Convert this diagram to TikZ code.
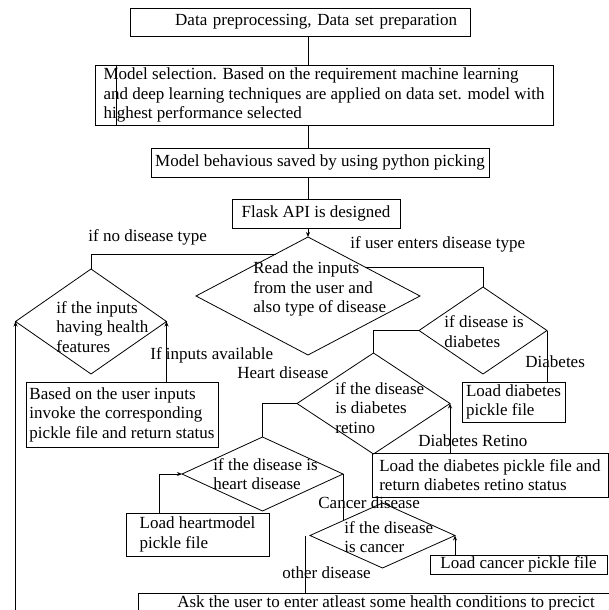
\documentclass[tikz,border=0pt]{standalone}
\usepackage{fontspec}
\setmainfont{Liberation Serif}
\usetikzlibrary{shapes.geometric,arrows.meta,calc}

\begin{document}
\begin{tikzpicture}[x=1pt,y=-1pt,line width=0.8pt,
  every node/.style={font=\fontsize{17}{19.5}\selectfont},
  box/.style={draw,inner xsep=0pt,inner ysep=1.5pt,align=left},
  dia/.style={draw,diamond,inner sep=0pt,outer sep=0pt},
  lbl/.style={inner sep=0pt,anchor=west},
  dtxt/.style={inner sep=0pt,anchor=west,align=left},
  vtip/.style={-{Stealth[length=5pt,width=4pt]}}]
\useasboundingbox (0,0) rectangle (609,610);
\clip (0,0) rectangle (609,610);

\node[box,minimum width=340pt,minimum height=28pt,text width=314pt,align=right,inner xsep=13pt] (b1) at (300,22) {Data preprocessing, Data set preparation};
\node[box,minimum width=458pt,minimum height=60pt] (b2) at (324,95) {Model selection. Based on the requirement machine learning\\and deep learning techniques are applied on data set. model with\\highest performance selected};
\node[box,minimum width=338pt,minimum height=29pt] (b3) at (320,162.5) {Model behavious saved by using python picking};
\node[box,minimum width=168pt,minimum height=29pt] (b4) at (316,213.5) {Flask API is designed};

\node[dia,minimum width=224pt,minimum height=118pt] (dA) at (308,296) {};
\node[dtxt] (tA) at (253,289) {Read the inputs\\from the user and\\also type of disease};
\node[dia,minimum width=151pt,minimum height=105pt] (dB) at (91,321.5) {};
\node[dtxt] (tB) at (56,327) {if the inputs\\having health\\features};
\node[dia,minimum width=128pt,minimum height=87pt] (dC) at (483,330.5) {};
\node[dtxt] (tC) at (444,331.5) {if disease is\\diabetes};
\node[dia,minimum width=153pt,minimum height=101pt] (dD) at (373.5,403.5) {};
\node[dtxt] (tD) at (335,408) {if the disease\\is diabetes\\retino};
\node[dia,minimum width=161pt,minimum height=74pt] (dE) at (262.5,474) {};
\node[dtxt] (tE) at (213,474) {if the disease is\\heart disease};
\node[dia,minimum width=145pt,minimum height=65pt] (dF) at (382.5,535.5) {};
\node[dtxt] (tF) at (344,537) {if the disease\\is cancer};

\node[box,minimum width=192pt,minimum height=65pt] (b5) at (122,414.5) {Based on the user inputs\\invoke the corresponding\\pickle file and return status};
\node[box,minimum width=103pt,minimum height=40pt] (b6) at (513.5,402) {Load diabetes\\pickle file};
\node[box,minimum width=236pt,minimum height=44pt] (b7) at (490,475) {Load the diabetes pickle file and\\return diabetes retino status};
\node[box,minimum width=143pt,minimum height=43pt] (b8) at (197.5,534.5) {Load heartmodel\\pickle file};
\node[box,minimum width=177pt,minimum height=19pt] (b9) at (518.5,564.5) {Load cancer pickle file};
\node[box,minimum width=496pt,minimum height=20pt] (b10) at (386,603) {Ask the user to enter atleast some health conditions to precict};

\node[lbl] (lno) at (88,237) {if no disease type};
\node[lbl] (lyes) at (350,244) {if user enters disease type};
\node[lbl] (lavail) at (150,355) {If inputs available};
\node[lbl] (ldiab) at (525,362) {Diabetes};
\node[lbl] (lheart) at (237,373) {Heart disease};
\node[lbl] (lretino) at (418,441) {Diabetes Retino};
\node[lbl] (lcancer) at (318,503) {Cancer disease};
\node[lbl] (lother) at (282,573) {other disease};

\coordinate (loopend) at (15,620);
\coordinate (fE) at ($(dF.west)!0.455!(dF.north)$);
\coordinate (hE) at ([xshift=34pt]b8.north west);
\coordinate (oF) at ([xshift=-5pt]dF.west);

\draw ([xshift=22pt]b2.north west) -- ([xshift=22pt]b2.south west);
\draw (b1.south -| dA.north) -- (b2.north -| dA.north);
\draw (b2.south -| dA.north) -- (b3.north -| dA.north);
\draw (b3.south -| dA.north) -- (b4.north -| dA.north);
\draw[vtip] (b4.south -| dA.north) -- (dA.north);
\draw ($(dA.west)!0.71!(dA.north)$) -| (dB.north);
\draw ($(dA.north)!0.51!(dA.east)$) -| (dC.north);
\draw[vtip] (b5.north -| dB.east) -- (dB.east);
\draw[vtip] (loopend -| dB.west) -- (dB.west);
\draw (b6.north -| dC.east) -- (dC.east);
\draw (dC.west) -| (dD.north);
\draw[vtip] (b7.north -| dD.east) -- (dD.east);
\draw (dD.west) -| (dE.north);
\draw[vtip] (hE) |- (dE.west);
\draw (dE.east) -- (dE.east |- fE);
\draw[vtip] (b9.north -| dF.east) -- (dF.east);
\draw (oF) -- (oF |- b10.north);
\end{tikzpicture}
\end{document}
